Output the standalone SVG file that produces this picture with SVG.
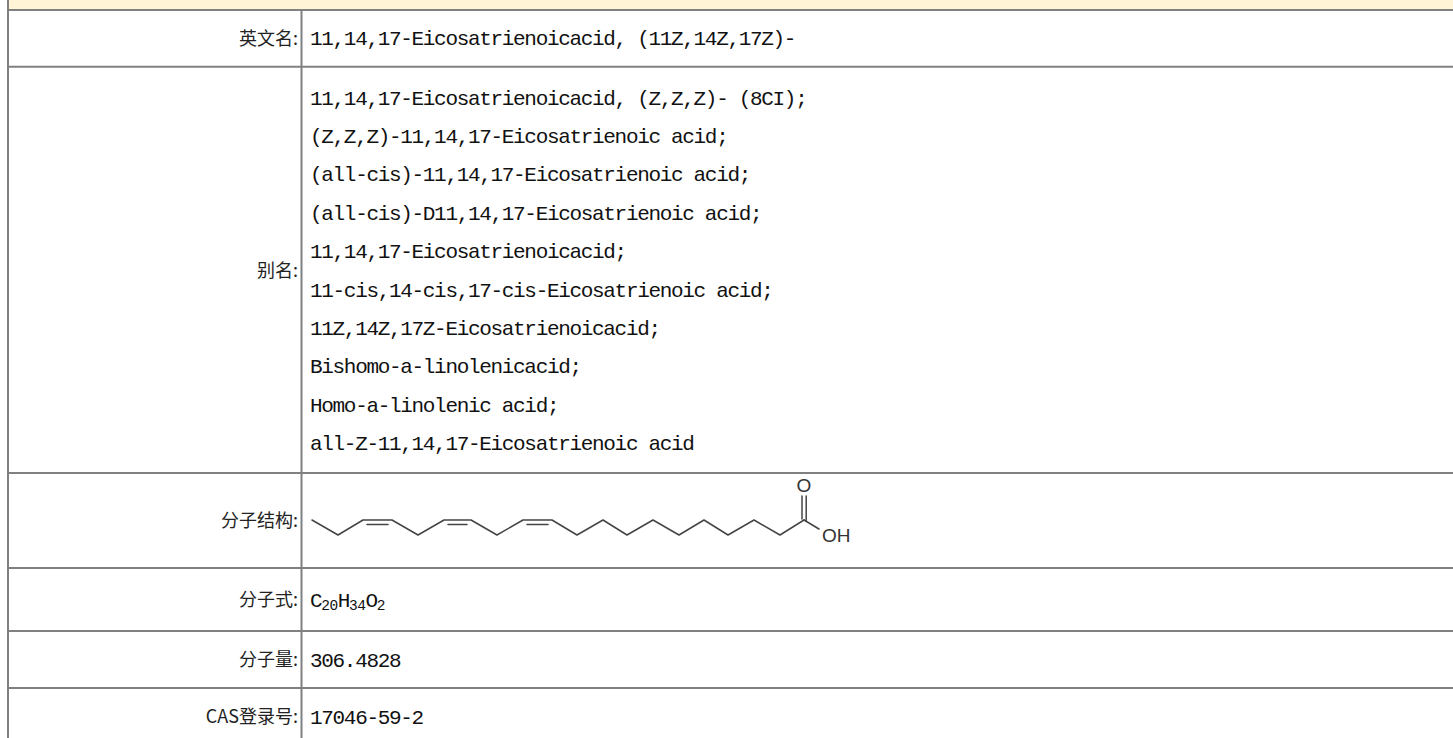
<svg xmlns="http://www.w3.org/2000/svg" width="1453" height="738" viewBox="0 0 1453 738">
<style>
.grid line{stroke:#808080;stroke-width:2}
.lbl{font-family:"Noto Sans CJK SC","Liberation Sans",sans-serif;font-size:18px;fill:#222;text-anchor:end}
.val{font-family:"Liberation Mono","Noto Sans CJK SC",monospace;font-size:21px;letter-spacing:-1.32px;fill:#111}
.sub{font-size:14.5px;letter-spacing:-0.5px}
.bond{stroke:#444;stroke-width:1.5;fill:none;stroke-linejoin:round;stroke-linecap:round}
.atom{font-family:"Liberation Sans",Arial,sans-serif;font-size:19px;fill:#333}
</style>
<rect x="0" y="0" width="1453" height="738" fill="#ffffff"/>
<rect x="9" y="0" width="1444" height="9" fill="#FFF5D6"/>
<g id="grid" class="grid">
<line x1="8" y1="0" x2="8" y2="738"/>
<line x1="301.5" y1="10" x2="301.5" y2="738"/>
<line x1="7" y1="10" x2="1453" y2="10"/>
<line x1="7" y1="66.7" x2="1453" y2="66.7"/>
<line x1="7" y1="473" x2="1453" y2="473"/>
<line x1="7" y1="568" x2="1453" y2="568"/>
<line x1="7" y1="631" x2="1453" y2="631"/>
<line x1="7" y1="688" x2="1453" y2="688"/>
</g>
<g id="row-english">
<text class="lbl" x="298" y="45">英文名:</text>
<text class="val" x="310" y="45">11,14,17-Eicosatrienoicacid, (11Z,14Z,17Z)-</text>
</g>
<g id="row-alias">
<text class="lbl" x="298" y="276.5">别名:</text>
<text class="val" x="310" y="104.5">11,14,17-Eicosatrienoicacid, (Z,Z,Z)- (8CI);</text>
<text class="val" x="310" y="142.9">(Z,Z,Z)-11,14,17-Eicosatrienoic acid;</text>
<text class="val" x="310" y="181.3">(all-cis)-11,14,17-Eicosatrienoic acid;</text>
<text class="val" x="310" y="219.7">(all-cis)-D11,14,17-Eicosatrienoic acid;</text>
<text class="val" x="310" y="258.1">11,14,17-Eicosatrienoicacid;</text>
<text class="val" x="310" y="296.5">11-cis,14-cis,17-cis-Eicosatrienoic acid;</text>
<text class="val" x="310" y="334.9">11Z,14Z,17Z-Eicosatrienoicacid;</text>
<text class="val" x="310" y="373.3">Bishomo-a-linolenicacid;</text>
<text class="val" x="310" y="411.7">Homo-a-linolenic acid;</text>
<text class="val" x="310" y="450.1">all-Z-11,14,17-Eicosatrienoic acid</text>
</g>
<g id="row-structure">
<text class="lbl" x="298" y="527">分子结构:</text>
<polyline class="bond" points="312,520 338,535 363,520 392,520 418,535 444,520 471,520 497,535 523,520 552,520 577,535 603,520 627,535 653,520 679,535 704,520 728,535 754,520 780,535 804,520"/>
<line class="bond" x1="367" y1="524.5" x2="388" y2="524.5"/>
<line class="bond" x1="448" y1="524.5" x2="467" y2="524.5"/>
<line class="bond" x1="527" y1="524.5" x2="548" y2="524.5"/>
<line class="bond" x1="802" y1="496" x2="802" y2="519"/>
<line class="bond" x1="806.2" y1="496" x2="806.2" y2="521"/>
<line class="bond" x1="804" y1="520" x2="819" y2="529"/>
<text class="atom" x="804" y="492" text-anchor="middle">O</text>
<text class="atom" x="822" y="542">OH</text>
</g>
<g id="row-formula">
<text class="lbl" x="298" y="606">分子式:</text>
<text class="val" x="310" y="606.5">C<tspan class="sub" dy="3">20</tspan><tspan dy="-3">H</tspan><tspan class="sub" dy="3">34</tspan><tspan dy="-3">O</tspan><tspan class="sub" dy="3">2</tspan></text>
</g>
<g id="row-mass">
<text class="lbl" x="298" y="666">分子量:</text>
<text class="val" x="310" y="666.5">306.4828</text>
</g>
<g id="row-cas">
<text class="lbl" x="298" y="723">CAS登录号:</text>
<text class="val" x="310" y="724">17046-59-2</text>
</g>
</svg>
